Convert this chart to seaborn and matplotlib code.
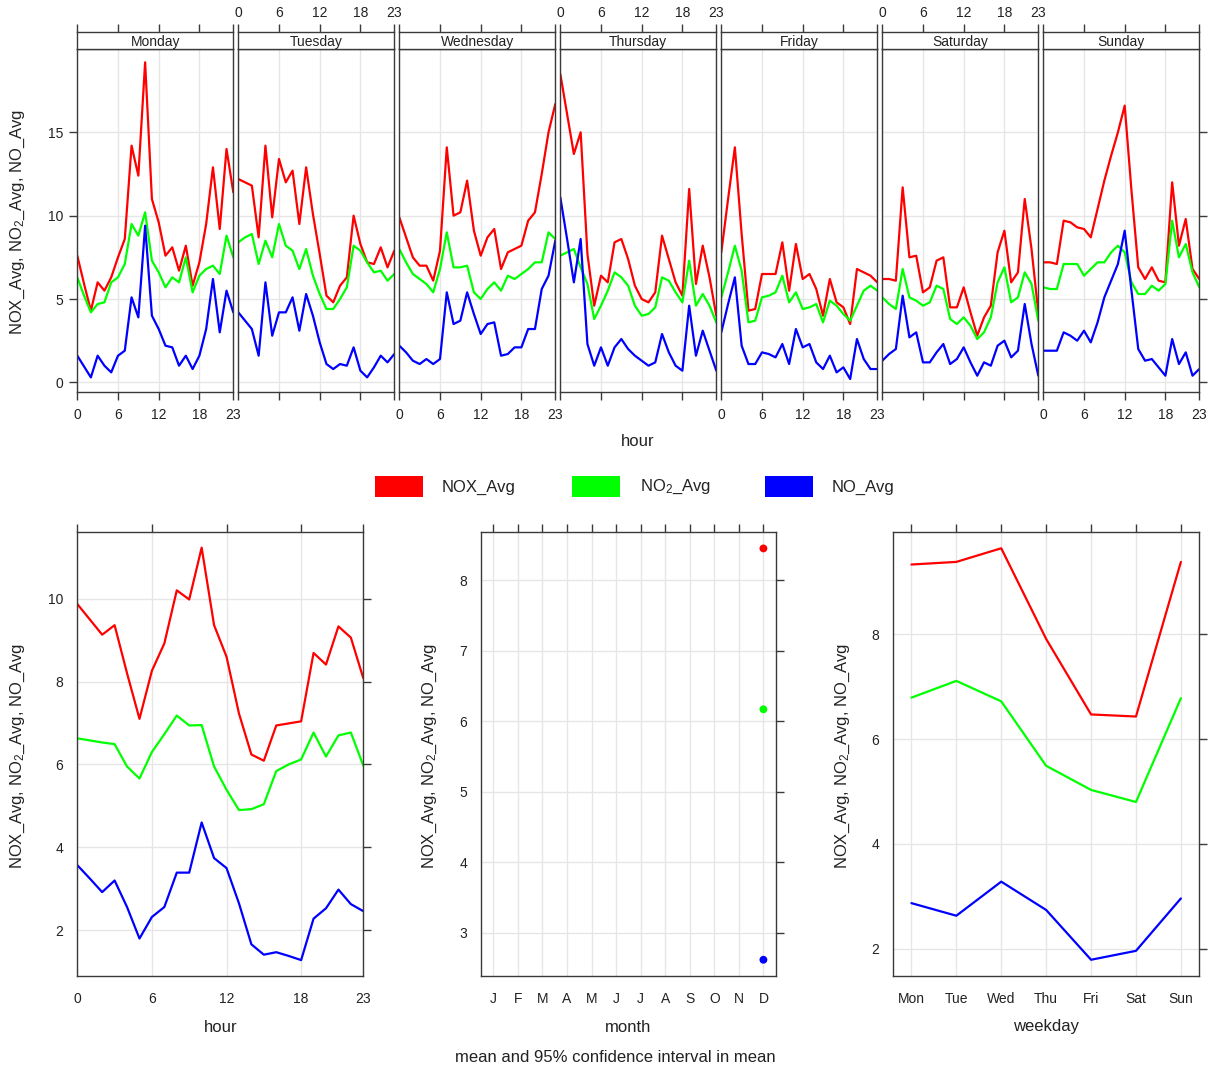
import numpy as np
import pandas as pd
import matplotlib
matplotlib.use("Agg")
import matplotlib.pyplot as plt
from matplotlib.patches import Rectangle
import seaborn as sns

# ---------------- data ----------------
days = ["Monday", "Tuesday", "Wednesday", "Thursday", "Friday", "Saturday", "Sunday"]
hours = list(range(24))
pollutants = ["NOX_Avg", "NO2_Avg", "NO_Avg"]
legend_labels = ["NOX_Avg", r"NO$_2$_Avg", "NO_Avg"]
colors = ["#FF0000", "#00FF00", "#0000FF"]

nox_mon = [7.6, 5.9, 4.3, 6.0, 5.5, 6.3, 7.5, 8.6, 14.2, 12.4, 19.2, 11.0, 9.6, 7.6, 8.1, 6.7, 8.2, 5.8, 7.2, 9.5, 12.9, 9.2, 14.0, 11.4]
no2_mon = [6.3, 5.2, 4.2, 4.7, 4.8, 6.0, 6.3, 7.1, 9.5, 8.8, 10.2, 7.3, 6.6, 5.7, 6.3, 6.0, 7.5, 5.4, 6.4, 6.8, 7.0, 6.5, 8.8, 7.5]
no_mon = [1.6, 0.95, 0.3, 1.6, 1.0, 0.6, 1.6, 1.9, 5.1, 3.9, 9.4, 4.0, 3.2, 2.2, 2.1, 1.0, 1.6, 0.8, 1.6, 3.2, 6.2, 3.0, 5.5, 4.2]

nox_tue = [12.2, 12.0, 11.8, 8.7, 14.2, 9.9, 13.4, 12.0, 12.7, 9.5, 12.9, 10.1, 7.7, 5.2, 4.8, 5.8, 6.3, 10.0, 8.3, 7.2, 7.1, 8.1, 6.9, 7.9]
no2_tue = [8.4, 8.7, 8.9, 7.1, 8.5, 7.5, 9.5, 8.2, 7.9, 6.8, 8.0, 6.4, 5.3, 4.4, 4.4, 5.0, 5.7, 8.2, 7.9, 7.2, 6.6, 6.7, 6.1, 6.5]
no_tue = [4.2, 3.7, 3.2, 1.6, 6.0, 2.8, 4.2, 4.2, 5.1, 3.1, 5.3, 4.0, 2.4, 1.1, 0.8, 1.1, 1.0, 2.1, 0.7, 0.3, 0.9, 1.6, 1.2, 1.7]

nox_wed = [9.9, 8.7, 7.5, 7.0, 7.0, 6.1, 7.9, 14.1, 10.0, 10.2, 12.1, 9.1, 7.6, 8.7, 9.2, 6.8, 7.8, 8.0, 8.2, 9.7, 10.2, 12.5, 15.0, 16.7]
no2_wed = [8.0, 7.2, 6.5, 6.2, 5.9, 5.4, 6.8, 9.0, 6.9, 6.9, 7.0, 5.4, 5.0, 5.6, 6.0, 5.5, 6.4, 6.2, 6.5, 6.8, 7.2, 7.2, 9.0, 8.6]
no_wed = [2.2, 1.8, 1.3, 1.1, 1.4, 1.1, 1.4, 5.4, 3.5, 3.7, 5.4, 4.1, 2.9, 3.5, 3.6, 1.6, 1.7, 2.1, 2.1, 3.2, 3.2, 5.6, 6.4, 8.5]

nox_thu = [18.5, 16.1, 13.7, 15.0, 7.7, 4.6, 6.4, 6.0, 8.4, 8.6, 7.4, 5.8, 5.0, 4.8, 5.4, 8.8, 7.4, 6.0, 5.2, 11.6, 5.9, 8.2, 6.3, 4.0]
no2_thu = [7.6, 7.8, 8.0, 6.9, 5.9, 3.8, 4.6, 5.5, 6.6, 6.3, 5.8, 4.6, 4.0, 4.1, 4.5, 6.3, 6.1, 5.4, 4.8, 7.3, 4.6, 5.3, 4.6, 3.6]
no_thu = [11.1, 8.6, 6.0, 8.6, 2.3, 1.0, 2.1, 1.0, 2.1, 2.6, 2.0, 1.6, 1.3, 1.0, 1.2, 2.9, 1.8, 1.0, 0.7, 4.6, 1.6, 3.1, 1.9, 0.7]

nox_fri = [7.8, 11.0, 14.1, 8.9, 4.3, 4.4, 6.5, 6.5, 6.5, 8.4, 5.5, 8.3, 6.2, 6.5, 5.6, 4.0, 6.2, 4.8, 4.5, 3.5, 6.8, 6.6, 6.4, 6.0]
no2_fri = [5.1, 6.6, 8.2, 6.7, 3.6, 3.7, 5.1, 5.2, 5.4, 6.4, 4.8, 5.4, 4.4, 4.5, 4.7, 3.6, 4.9, 4.6, 4.1, 3.7, 4.6, 5.5, 5.8, 5.5]
no_fri = [3.0, 4.7, 6.3, 2.2, 1.1, 1.1, 1.8, 1.7, 1.5, 2.3, 1.1, 3.2, 2.1, 2.3, 1.2, 0.8, 1.6, 0.6, 0.9, 0.2, 2.6, 1.4, 0.8, 0.8]

nox_sat = [6.2, 6.2, 6.1, 11.7, 7.5, 7.6, 5.4, 5.7, 7.3, 7.5, 4.5, 4.5, 5.7, 4.2, 2.8, 3.9, 4.6, 7.8, 9.1, 6.0, 6.6, 11.0, 8.0, 4.2]
no2_sat = [5.1, 4.7, 4.4, 6.8, 5.1, 4.9, 4.6, 4.8, 5.8, 5.6, 3.8, 3.5, 3.9, 3.4, 2.6, 3.0, 3.9, 6.0, 6.9, 4.8, 5.1, 6.6, 5.9, 3.7]
no_sat = [1.3, 1.7, 2.0, 5.2, 2.7, 3.0, 1.2, 1.2, 1.8, 2.3, 1.1, 1.4, 2.1, 1.2, 0.4, 1.2, 1.0, 2.2, 2.5, 1.5, 1.9, 4.7, 2.3, 0.4]

nox_sun = [7.2, 7.2, 7.1, 9.7, 9.6, 9.3, 9.2, 8.7, 10.4, 12.1, 13.6, 15.0, 16.6, 11.5, 6.9, 6.2, 6.9, 6.1, 6.0, 12.0, 8.2, 9.8, 6.8, 6.2]
no2_sun = [5.7, 5.6, 5.6, 7.1, 7.1, 7.1, 6.4, 6.8, 7.2, 7.2, 7.8, 8.2, 7.8, 6.0, 5.3, 5.3, 5.8, 5.5, 5.9, 9.7, 7.5, 8.3, 6.6, 5.7]
no_sun = [1.9, 1.9, 1.9, 3.0, 2.8, 2.5, 3.1, 2.4, 3.6, 5.1, 6.1, 7.1, 9.1, 5.5, 2.0, 1.3, 1.4, 0.9, 0.4, 2.6, 1.1, 1.8, 0.4, 0.8]

nox_hour = [9.87, 9.5, 9.13, 9.36, 8.2, 7.1, 8.26, 8.92, 10.2, 9.98, 11.23, 9.36, 8.6, 7.23, 6.24, 6.09, 6.94, 6.99, 7.04, 8.69, 8.41, 9.33, 9.06, 8.08]
no2_hour = [6.63, 6.58, 6.53, 6.49, 5.95, 5.66, 6.30, 6.73, 7.18, 6.94, 6.95, 5.95, 5.39, 4.90, 4.92, 5.04, 5.84, 6.00, 6.12, 6.77, 6.19, 6.70, 6.77, 5.97]
no_hour = [3.57, 3.25, 2.92, 3.20, 2.56, 1.80, 2.32, 2.56, 3.39, 3.39, 4.60, 3.74, 3.50, 2.65, 1.66, 1.41, 1.47, 1.38, 1.28, 2.28, 2.53, 2.98, 2.63, 2.46]

month_labels = ["J", "F", "M", "A", "M", "J", "J", "A", "S", "O", "N", "D"]
month_present = [12]
nox_month = [8.45]
no2_month = [6.17]
no_month = [2.62]

weekday_labels = ["Mon", "Tue", "Wed", "Thu", "Fri", "Sat", "Sun"]
nox_weekday = [9.33, 9.38, 9.64, 7.91, 6.47, 6.43, 9.38]
no2_weekday = [6.79, 7.11, 6.72, 5.49, 5.03, 4.80, 6.78]
no_weekday = [2.87, 2.63, 3.28, 2.74, 1.79, 1.96, 2.96]

day_series = {
    "Monday": (nox_mon, no2_mon, no_mon),
    "Tuesday": (nox_tue, no2_tue, no_tue),
    "Wednesday": (nox_wed, no2_wed, no_wed),
    "Thursday": (nox_thu, no2_thu, no_thu),
    "Friday": (nox_fri, no2_fri, no_fri),
    "Saturday": (nox_sat, no2_sat, no_sat),
    "Sunday": (nox_sun, no2_sun, no_sun),
}

rows = []
for d in days:
    for p, vals in zip(pollutants, day_series[d]):
        for h, v in zip(hours, vals):
            rows.append((d, h, p, v))
df_day = pd.DataFrame(rows, columns=["day", "hour", "pollutant", "value"])

df_hour = pd.DataFrame({"hour": hours * 3,
                        "pollutant": sum([[p] * 24 for p in pollutants], []),
                        "value": nox_hour + no2_hour + no_hour})
df_month = pd.DataFrame({"month": month_present * 3,
                         "pollutant": pollutants,
                         "value": nox_month + no2_month + no_month})
wk = list(range(1, 8))
df_week = pd.DataFrame({"weekday": wk * 3,
                        "pollutant": sum([[p] * 7 for p in pollutants], []),
                        "value": nox_weekday + no2_weekday + no_weekday})

palette = dict(zip(pollutants, colors))

# ---------------- style ----------------
sns.set_style("white")
plt.rcParams["font.family"] = ["Liberation Sans", "DejaVu Sans"]
plt.rcParams["mathtext.fontset"] = "custom"
plt.rcParams["mathtext.rm"] = "Liberation Sans"
plt.rcParams["mathtext.it"] = "Liberation Sans"
plt.rcParams["mathtext.default"] = "regular"

W, H = 1213, 1072
fig = plt.figure(figsize=(W / 100, H / 100), dpi=100)
FRAME = "#3a3a3a"
GRID = "#E6E6E6"
TXT = "#222222"
LW = 1.6


def ax_px(left, top, right, bottom):
    return fig.add_axes([left / W, 1 - bottom / H, (right - left) / W, (bottom - top) / H])


def style_frame(ax):
    for s in ax.spines.values():
        s.set_color(FRAME)
        s.set_linewidth(1.0)
        s.set_visible(True)


def common_ticks(ax):
    ax.tick_params(axis="both", direction="out", length=6, width=1, color=FRAME,
                   labelsize=10, labelcolor=TXT, pad=4)
    ax.tick_params(axis="x", pad=5.5)


ylabel_txt = r"NOX_Avg, NO$_2$_Avg, NO_Avg"

# ---------------- top: hour by day ----------------
top_ylim = (-0.56, 19.98)
for i, d in enumerate(days):
    left = 77.3 + i * 161.0
    right = left + 156.0
    ax = ax_px(left, 49.3, right, 391.7)
    sub = df_day[df_day["day"] == d]
    sns.lineplot(data=sub, x="hour", y="value", hue="pollutant", hue_order=pollutants,
                 palette=palette, legend=False, ax=ax, linewidth=LW, estimator=None)
    ax.set_xlim(0, 23)
    ax.set_ylim(*top_ylim)
    ax.set_xticks([0, 6, 12, 18, 23])
    ax.set_yticks([0, 5, 10, 15])
    ax.grid(True, color=GRID, linewidth=1)
    ax.set_axisbelow(True)
    ax.set_xlabel("")
    ax.set_ylabel("")
    style_frame(ax)
    common_ticks(ax)
    ax.tick_params(axis="x", bottom=True, top=False, labelbottom=(i % 2 == 0))
    ax.tick_params(axis="y", left=(i == 0), right=(i == 6), labelleft=(i == 0), labelright=False)

    sax = ax_px(left, 32.3, right, 49.3)
    sax.set_facecolor("white")
    sax.set_xlim(0, 23)
    sax.set_ylim(0, 1)
    sax.set_xticks([0, 6, 12, 18, 23])
    sax.set_yticks([])
    style_frame(sax)
    common_ticks(sax)
    sax.tick_params(axis="x", bottom=False, top=True, labelbottom=False,
                    labeltop=(i % 2 == 1), pad=2.5)
    sax.text(11.5, 0.45, d, ha="center", va="center", fontsize=10, color=TXT)

fig.text(638 / W, 1 - 442 / H, "hour", ha="center", va="center", fontsize=12, color=TXT)
fig.text(18 / W, 1 - 222 / H, ylabel_txt, ha="center", va="center", rotation=90, fontsize=12, color=TXT)

# ---------------- legend ----------------
leg_rects = [375, 572, 765]
leg_texts = [442, 640, 832]
for c, lab, rx, tx in zip(colors, legend_labels, leg_rects, leg_texts):
    fig.add_artist(Rectangle((rx / W, 1 - 497.5 / H), 48 / W, 21 / H,
                             transform=fig.transFigure, facecolor=c, edgecolor="none"))
    fig.text(tx / W, 1 - 487 / H, lab, ha="left", va="center", fontsize=12, color=TXT)

# ---------------- bottom-left: hour ----------------
ax = ax_px(77.3, 531.5, 363.3, 976)
sns.lineplot(data=df_hour, x="hour", y="value", hue="pollutant", hue_order=pollutants,
             palette=palette, legend=False, ax=ax, linewidth=LW, estimator=None)
ax.set_xlim(0, 23)
ax.set_ylim(0.896, 11.62)
ax.set_xticks([0, 6, 12, 18, 23])
ax.set_yticks([2, 4, 6, 8, 10])
ax.grid(True, color=GRID, linewidth=1)
ax.set_axisbelow(True)
ax.set_xlabel("")
ax.set_ylabel("")
style_frame(ax)
common_ticks(ax)
ax.tick_params(top=True, right=True, labeltop=False, labelright=False)
fig.text(220.3 / W, 1 - 1027 / H, "hour", ha="center", va="center", fontsize=12, color=TXT)
fig.text(18 / W, 1 - 756 / H, ylabel_txt, ha="center", va="center", rotation=90, fontsize=12, color=TXT)

# ---------------- bottom-middle: month ----------------
ax = ax_px(481, 531.5, 775.7, 976)
sns.scatterplot(data=df_month, x="month", y="value", hue="pollutant", hue_order=pollutants,
                palette=palette, legend=False, ax=ax, s=32, edgecolor="none")
ax.set_xlim(0.5, 12.5)
ax.set_ylim(2.39, 8.69)
ax.set_xticks(list(range(1, 13)))
ax.set_xticklabels(month_labels)
ax.set_yticks([3, 4, 5, 6, 7, 8])
ax.grid(True, color=GRID, linewidth=1)
ax.set_axisbelow(True)
ax.set_xlabel("")
ax.set_ylabel("")
style_frame(ax)
common_ticks(ax)
ax.tick_params(top=True, right=True, labeltop=False, labelright=False)
fig.text(628 / W, 1 - 1027 / H, "month", ha="center", va="center", fontsize=12, color=TXT)
fig.text(430 / W, 1 - 756 / H, ylabel_txt, ha="center", va="center", rotation=90, fontsize=12, color=TXT)
fig.text(615 / W, 1 - 1058 / H, "mean and 95% confidence interval in mean", ha="center", va="center",
         fontsize=12, color=TXT)

# ---------------- bottom-right: weekday ----------------
ax = ax_px(893, 531.5, 1199.3, 976)
sns.lineplot(data=df_week, x="weekday", y="value", hue="pollutant", hue_order=pollutants,
             palette=palette, legend=False, ax=ax, linewidth=LW, estimator=None)
ax.set_xlim(0.59, 7.41)
ax.set_ylim(1.48, 9.96)
ax.set_xticks(wk)
ax.set_xticklabels(weekday_labels)
ax.set_yticks([2, 4, 6, 8])
ax.grid(True, color=GRID, linewidth=1)
ax.set_axisbelow(True)
ax.set_xlabel("")
ax.set_ylabel("")
style_frame(ax)
common_ticks(ax)
ax.tick_params(top=True, right=True, labeltop=False, labelright=False)
fig.text(1046 / W, 1 - 1027 / H, "weekday", ha="center", va="center", fontsize=12, color=TXT)
fig.text(843 / W, 1 - 756 / H, ylabel_txt, ha="center", va="center", rotation=90, fontsize=12, color=TXT)

fig.savefig("out.png", dpi=100, facecolor="white")
